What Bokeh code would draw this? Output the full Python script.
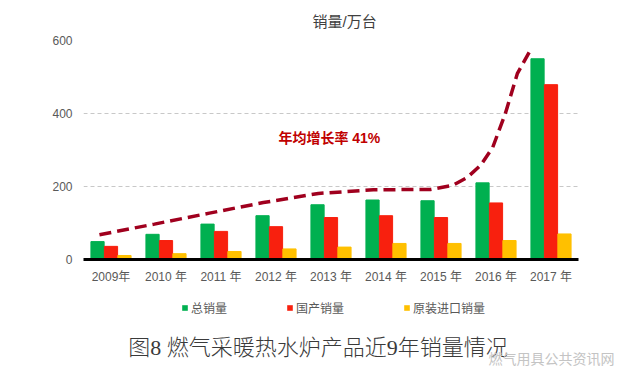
import numpy as np
from bokeh.plotting import figure
from bokeh.layouts import column
from bokeh.models import Range1d, FixedTicker, Label, Legend, LegendItem
from bokeh.embed import file_html
from bokeh.resources import INLINE

years = ["2009年", "2010 年", "2011 年", "2012 年", "2013 年", "2014 年", "2015 年", "2016 年", "2017 年"]
total_sales = [49, 69, 97, 120, 150, 163, 161, 210, 550]
domestic_sales = [36, 52, 77, 90, 115, 120, 115, 155, 479]
import_sales = [11, 16, 22, 29, 34, 44, 44, 52, 70]
series_names = ["总销量", "国产销量", "原装进口销量"]
y_ticks = [0, 200, 400, 600]

# dashed trend curve (x in category index units)
trend_x = [-0.21, 0.79, 1.79, 2.77, 3.77, 4.77, 5.81, 6.21, 6.48, 6.72, 6.94, 7.17, 7.39, 7.63]
trend_y = [68, 97, 127, 156, 181, 191, 192, 203, 225, 258, 307, 400, 510, 575]

GREEN = "#00B050"
RED = "#F8200E"
YELLOW = "#FFC000"
DARKRED = "#A0001E"
FONT = "'Liberation Sans', 'Noto Sans CJK SC'"

# ---------------- main chart ----------------
p = figure(width=640, height=290, output_backend="svg", toolbar_location=None,
           x_range=Range1d(-0.5, 8.5), y_range=Range1d(0, 600),
           min_border_left=83, min_border_right=62, min_border_top=40, min_border_bottom=31)
p.outline_line_color = None
p.background_fill_color = "white"
p.border_fill_color = "white"

idx = np.arange(len(years))
w = 0.24
p.vbar(x=idx - 0.245, top=total_sales, width=w, color=GREEN)
p.vbar(x=idx, top=domestic_sales, width=w, color=RED)
p.vbar(x=idx + 0.245, top=import_sales, width=w, color=YELLOW)

p.line(trend_x, trend_y, line_color=DARKRED, line_width=3.5, line_dash="12 6")

p.xaxis.ticker = FixedTicker(ticks=list(idx))
p.xaxis.major_label_overrides = {int(i): years[i] for i in idx}
p.xaxis.axis_line_color = "black"
p.xaxis.axis_line_width = 3
p.xaxis.major_tick_line_color = None
p.xaxis.minor_tick_line_color = None
p.xaxis.major_tick_out = 0
p.xaxis.minor_tick_out = 0
p.xaxis.major_label_standoff = 10
p.xaxis.major_label_text_font = FONT
p.xaxis.major_label_text_font_size = "12px"
p.xaxis.major_label_text_color = "#595959"

p.yaxis.ticker = FixedTicker(ticks=y_ticks)
p.yaxis.axis_line_color = None
p.yaxis.major_tick_line_color = None
p.yaxis.minor_tick_line_color = None
p.yaxis.major_tick_out = 0
p.yaxis.minor_tick_out = 0
p.yaxis.major_label_standoff = 11
p.yaxis.major_label_text_font = FONT
p.yaxis.major_label_text_font_size = "12px"
p.yaxis.major_label_text_color = "#595959"

p.xgrid.grid_line_color = None
p.ygrid.grid_line_color = "#c8c8c8"
p.ygrid.grid_line_dash = "4 3"
p.ygrid.grid_line_width = 1

p.title.text = "销量/万台"
p.title.align = "left"
p.title.offset = 229
p.title.standoff = 21
p.title.text_font = FONT
p.title.text_font_size = "15px"
p.title.text_font_style = "normal"
p.title.text_color = "#404040"

p.add_layout(Label(x=3.97, y=334, text="年均增长率 41%", text_align="center", text_baseline="middle",
                   text_font=FONT, text_font_size="14px", text_font_style="bold", text_color="#C00000"))

# ---------------- legend + caption strip ----------------
# x = page pixel + 700, y = negative distance below the top of this strip
X0 = 700
p2 = figure(width=640, height=99, output_backend="svg", toolbar_location=None,
            x_range=Range1d(X0, X0 + 640), y_range=Range1d(-99, 0),
            min_border_left=0, min_border_right=0, min_border_top=0, min_border_bottom=0)
if "frame_align" in p2.properties():
    p2.frame_align = False
p2.outline_line_color = None
p2.axis.visible = False
p2.grid.visible = False
p2.border_fill_color = "white"
p2.background_fill_color = "white"

# legend proxies: the same series, lying outside this strip's visible range
l1 = p2.vbar(x=idx, top=total_sales, width=w, fill_color=GREEN, line_color=None)
l2 = p2.vbar(x=idx, top=domestic_sales, width=w, fill_color=RED, line_color=None)
l3 = p2.vbar(x=idx, top=import_sales, width=w, fill_color=YELLOW, line_color=None)

legend = Legend(items=[LegendItem(label=series_names[0], renderers=[l1], index=0),
                       LegendItem(label=series_names[1], renderers=[l2], index=0),
                       LegendItem(label=series_names[2], renderers=[l3], index=0)],
                orientation="horizontal", location=(181, 73),
                glyph_width=7, glyph_height=7, label_text_font=FONT, label_text_font_size="12px",
                label_text_color="#595959", spacing=59, padding=0, margin=0,
                background_fill_alpha=0, border_line_color=None, label_standoff=3)
p2.add_layout(legend, "center")

p2.add_layout(Label(x=X0 + 317.5, y=-57, text="图8 燃气采暖热水炉产品近9年销量情况", text_align="center",
                    text_baseline="middle",
                    text_font="'Liberation Serif', 'Noto Sans CJK SC Light', 'Noto Sans CJK SC'",
                    text_font_size="22px", text_color="#3a3a3a"))
p2.add_layout(Label(x=X0 + 488, y=-68, text="燃气用具公共资讯网", text_align="left", text_baseline="middle",
                    text_font=FONT, text_font_size="14px", text_color="#c4c4c4"))

layout = column(p, p2, spacing=0)
open("out.html", "w").write(file_html(layout, INLINE))
